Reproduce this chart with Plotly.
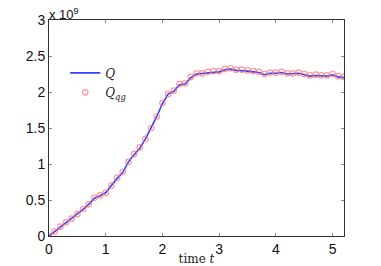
import plotly.graph_objects as go

t = [round(0.1 * i, 1) for i in range(53)]
Q_qg = [0.0, 0.065, 0.13, 0.19, 0.24, 0.305, 0.375, 0.44, 0.53, 0.565,
        0.60, 0.70, 0.81, 0.89, 1.03, 1.14, 1.23, 1.35, 1.50, 1.66,
        1.85, 1.97, 2.02, 2.11, 2.12, 2.21, 2.26, 2.26, 2.28, 2.29,
        2.29, 2.32, 2.33, 2.31, 2.31, 2.30, 2.29, 2.28, 2.25, 2.27,
        2.27, 2.28, 2.26, 2.26, 2.27, 2.25, 2.23, 2.24, 2.23, 2.23,
        2.25, 2.22, 2.21]
Q = [0.0, 0.06, 0.125, 0.185, 0.24, 0.30, 0.37, 0.44, 0.525, 0.56,
     0.60, 0.70, 0.80, 0.88, 1.03, 1.13, 1.22, 1.35, 1.50, 1.66,
     1.84, 1.97, 2.01, 2.10, 2.11, 2.20, 2.25, 2.255, 2.27, 2.275,
     2.28, 2.31, 2.32, 2.30, 2.30, 2.29, 2.28, 2.27, 2.24, 2.26,
     2.26, 2.27, 2.25, 2.25, 2.26, 2.24, 2.22, 2.23, 2.22, 2.22,
     2.24, 2.21, 2.20]
x_ticks = [0, 1, 2, 3, 4, 5]
y_ticks = [0, 0.5, 1, 1.5, 2, 2.5, 3]
y_ticklabels = ["0", "0.5", "1", "1.5", "2", "2.5", "3"]

fig = go.Figure()
fig.add_trace(go.Scatter(x=t, y=Q, mode="lines", name="<i>Q</i>", legend="legend",
                         line=dict(color="#2b44ff", width=1.6)))
fig.add_trace(go.Scatter(x=t, y=Q_qg, mode="markers", name="<i>Q</i><sub><i>qg</i></sub>",
                         legend="legend2",
                         marker=dict(symbol="circle-open", size=5.5,
                                     color="rgba(255,110,110,0.7)", line=dict(width=1.2))))

axis_font = dict(family="Liberation Sans, Arial, sans-serif", size=14, color="#111")
leg_font = dict(family="DejaVu Serif, Liberation Serif, serif", size=12, color="#222")
fig.update_layout(
    width=381, height=266,
    margin=dict(l=49, r=37, t=20, b=30),
    paper_bgcolor="white", plot_bgcolor="white",
    showlegend=True,
    legend=dict(x=0.055, y=0.755, xanchor="left", yanchor="middle",
                bgcolor="rgba(0,0,0,0)", itemwidth=30, font=leg_font),
    legend2=dict(x=0.055, y=0.665, xanchor="left", yanchor="middle",
                 bgcolor="rgba(0,0,0,0)", itemwidth=30, font=leg_font),
    xaxis=dict(range=[0, 5.2], tickvals=x_ticks, ticks="inside", ticklen=3,
               tickcolor="#888", showgrid=False, zeroline=False, showline=True,
               linecolor="#333", linewidth=1, mirror="ticks", tickfont=axis_font,
               automargin=False,
               title=dict(text="time <i>t</i>", standoff=0,
                          font=dict(family="DejaVu Serif, Liberation Serif, serif", size=12, color="#222"))),
    yaxis=dict(range=[0, 3], tickvals=y_ticks, ticktext=y_ticklabels, ticks="inside", ticklen=3,
               tickcolor="#888", showgrid=False, zeroline=False, showline=True,
               linecolor="#333", linewidth=1, mirror="ticks", tickfont=axis_font,
               automargin=False),
)
fig.add_annotation(text="x 10<sup>9</sup>", xref="paper", yref="paper", x=0.0, y=1.0,
                   xanchor="left", yanchor="bottom", showarrow=False,
                   font=dict(family="Liberation Sans, Arial, sans-serif", size=13, color="#111"),
                   xshift=-2, yshift=-4)
fig.write_html("out.html", config={"displayModeBar": False},
               post_script="document.body.style.margin='0';document.body.style.overflow='hidden';")
